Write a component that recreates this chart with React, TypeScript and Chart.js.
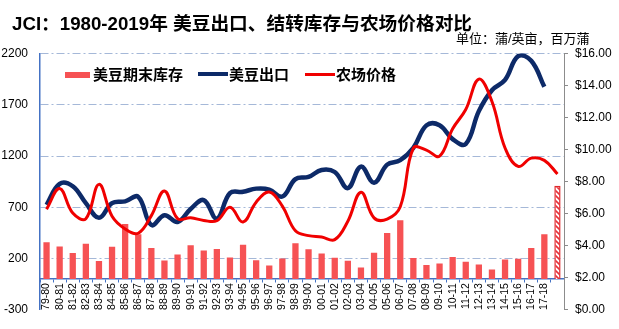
import React, { useEffect, useRef } from 'react';
import { Chart, registerables } from 'chart.js';

Chart.register(...registerables);

const categories = [
  '79-80', '80-81', '81-82', '82-83', '83-84', '84-85', '85-86', '86-87', '87-88', '88-89',
  '89-90', '90-91', '91-92', '92-93', '93-94', '94-95', '95-96', '96-97', '97-98', '98-99',
  '99-00', '00-01', '01-02', '02-03', '03-04', '04-05', '05-06', '06-07', '07-08', '08-09',
  '09-10', '10-11', '11-12', '12-13', '13-14', '14-15', '15-16', '16-17', '17-18', '',
];

// 美豆期末库存 (百万蒲) — last value is the hatched estimate
const endingStocks = [
  359, 318, 254, 345, 176, 316, 536, 436, 302, 182,
  239, 329, 278, 292, 209, 335, 183, 132, 200, 348,
  290, 248, 208, 178, 112, 256, 449, 574, 205, 138,
  151, 215, 169, 141, 92, 191, 197, 302, 438, 910,
];

// 美豆出口 (百万蒲)
const exportsSeries = [
  724, 929, 905, 740, 598, 740, 757, 802, 527, 623,
  557, 684, 770, 589, 838, 851, 882, 873, 805, 975,
  996, 1064, 1044, 887, 1097, 940, 1116, 1159, 1279, 1499,
  1501, 1365, 1317, 1638, 1842, 1942, 2174, 2129, 1875,
];

// 农场价格 ($/蒲)
const farmPrice = [
  6.28, 7.57, 6.04, 5.69, 7.83, 5.84, 5.05, 4.78, 5.88, 7.42,
  5.69, 5.74, 5.58, 5.56, 6.40, 5.48, 6.72, 7.35, 6.47, 4.93,
  4.63, 4.54, 4.38, 5.53, 7.34, 5.74, 5.66, 6.43, 10.10, 9.97,
  9.59, 11.30, 12.50, 14.40, 13.00, 10.10, 8.95, 9.47, 9.33, 8.48,
];

const leftTicks = { min: -300, max: 2200, step: 500 };
const rightTicks = { min: 0, max: 16, step: 2 };

const TITLE = 'JCI：1980-2019年 美豆出口、结转库存与农场价格对比';
const UNIT = '单位：蒲/英亩，百万蒲';
const LEGEND = ['美豆期末库存', '美豆出口', '农场价格'];

const BAR_COLOR = '#F65254';
const NAVY = '#0D2A68';
const RED = '#F00000';
const GRID = '#A5B8D8';
const AXIS_BLUE = '#4472C4';
const FONT = "'Liberation Sans', Arial, 'Noto Sans CJK SC', sans-serif";

export default function App() {
  const ref = useRef<HTMLCanvasElement>(null);

  useEffect(() => {
    const canvas = ref.current!;
    const pc = document.createElement('canvas');
    pc.width = 5;
    pc.height = 5;
    const p = pc.getContext('2d')!;
    p.fillStyle = '#ffffff';
    p.fillRect(0, 0, 5, 5);
    p.strokeStyle = '#E8303A';
    p.lineWidth = 1.6;
    p.beginPath();
    p.moveTo(-1, -1); p.lineTo(6, 6);
    p.moveTo(-1, 4); p.lineTo(1, 6);
    p.moveTo(4, -1); p.lineTo(6, 1);
    p.stroke();
    const pattern = canvas.getContext('2d')!.createPattern(pc, 'repeat');

    const last = endingStocks.length - 1;

    const chart = new Chart(canvas, {
      type: 'bar',
      data: {
        labels: categories,
        datasets: [
          {
            type: 'bar',
            label: LEGEND[0],
            data: endingStocks,
            yAxisID: 'y',
            backgroundColor: endingStocks.map((_, i) => (i === last ? pattern : BAR_COLOR)) as any,
            borderColor: endingStocks.map((_, i) => (i === last ? '#E0282C' : BAR_COLOR)),
            borderWidth: endingStocks.map((_, i) => (i === last ? 1.5 : 0)),
            barPercentage: 0.48,
            categoryPercentage: 1,
            order: 3,
          },
          {
            type: 'line',
            label: LEGEND[1],
            data: exportsSeries,
            yAxisID: 'y',
            borderColor: NAVY,
            borderWidth: 4.5,
            pointRadius: 0,
            tension: 0.4,
            order: 2,
          },
          {
            type: 'line',
            label: LEGEND[2],
            data: farmPrice,
            yAxisID: 'y1',
            borderColor: RED,
            borderWidth: 3,
            pointRadius: 0,
            tension: 0.4,
            order: 1,
          },
        ],
      },
      options: {
        responsive: false,
        animation: false,
        devicePixelRatio: 1,
        layout: { padding: { top: 53.5, bottom: 18, left: 0, right: 0 } },
        plugins: { legend: { display: false }, tooltip: { enabled: false } },
        scales: {
          x: {
            position: { y: 0 } as any,
            offset: true,
            grid: {
              display: true,
              drawOnChartArea: false,
              drawTicks: true,
              tickLength: 3,
              color: AXIS_BLUE,
              offset: true,
            },
            border: { display: true, color: AXIS_BLUE, width: 1.5 },
            ticks: {
              autoSkip: false,
              maxRotation: 90,
              minRotation: 90,
              padding: 1,
              color: '#000',
              font: { family: FONT, size: 10.5 },
            },
          },
          y: {
            position: 'left',
            min: leftTicks.min,
            max: leftTicks.max,
            afterFit: (s: any) => { s.width = 40; },
            ticks: {
              stepSize: leftTicks.step,
              padding: 12,
              color: '#000',
              font: { family: FONT, size: 12 },
              callback: (v: any) => String(v),
            },
            grid: {
              drawTicks: false,
              color: (ctx: any) => (ctx.tick && ctx.tick.value === leftTicks.min ? 'rgba(0,0,0,0)' : GRID),
              lineWidth: 1,
            },
            border: { display: true, color: AXIS_BLUE, width: 1.5, dash: [8, 3, 2, 3] },
          },
          y1: {
            position: 'right',
            min: rightTicks.min,
            max: rightTicks.max,
            afterFit: (s: any) => { s.width = 55; },
            ticks: {
              stepSize: rightTicks.step,
              padding: 7,
              color: '#000',
              font: { family: FONT, size: 12 },
              callback: (v: any) => '$' + Number(v).toFixed(2),
            },
            grid: {
              drawOnChartArea: false,
              drawTicks: true,
              tickLength: 4,
              color: '#8C8C8C',
            },
            border: { display: true, color: '#8C8C8C', width: 1 },
          },
        },
      },
    });

    return () => chart.destroy();
  }, []);

  const legendText: React.CSSProperties = {
    position: 'absolute',
    top: 66.5,
    fontFamily: FONT,
    fontWeight: 'bold',
    fontSize: 15,
    lineHeight: '15px',
    color: '#000',
    whiteSpace: 'nowrap',
  };

  return (
    <div style={{ position: 'fixed', left: 0, top: 0, width: 619, height: 329, background: '#fff', overflow: 'hidden' }}>
      <canvas ref={ref} width={619} height={329} style={{ position: 'absolute', left: 0, top: 0 }} />
      <div style={{ position: 'absolute', left: 12, top: 14.5, fontFamily: FONT, fontWeight: 'bold', fontSize: 18.7, lineHeight: '18.7px', color: '#000', whiteSpace: 'nowrap' }}>{TITLE}</div>
      <div style={{ position: 'absolute', left: 456, top: 31.5, fontFamily: FONT, fontSize: 13, lineHeight: '13px', color: '#000', whiteSpace: 'nowrap' }}>{UNIT}</div>
      <div style={{ position: 'absolute', left: 65, top: 71.5, width: 25, height: 6, background: BAR_COLOR }} />
      <div style={{ ...legendText, left: 93 }}>{LEGEND[0]}</div>
      <div style={{ position: 'absolute', left: 198, top: 72, width: 30, height: 4, background: NAVY }} />
      <div style={{ ...legendText, left: 229 }}>{LEGEND[1]}</div>
      <div style={{ position: 'absolute', left: 305, top: 72.5, width: 30, height: 3, background: RED }} />
      <div style={{ ...legendText, left: 336 }}>{LEGEND[2]}</div>
    </div>
  );
}
